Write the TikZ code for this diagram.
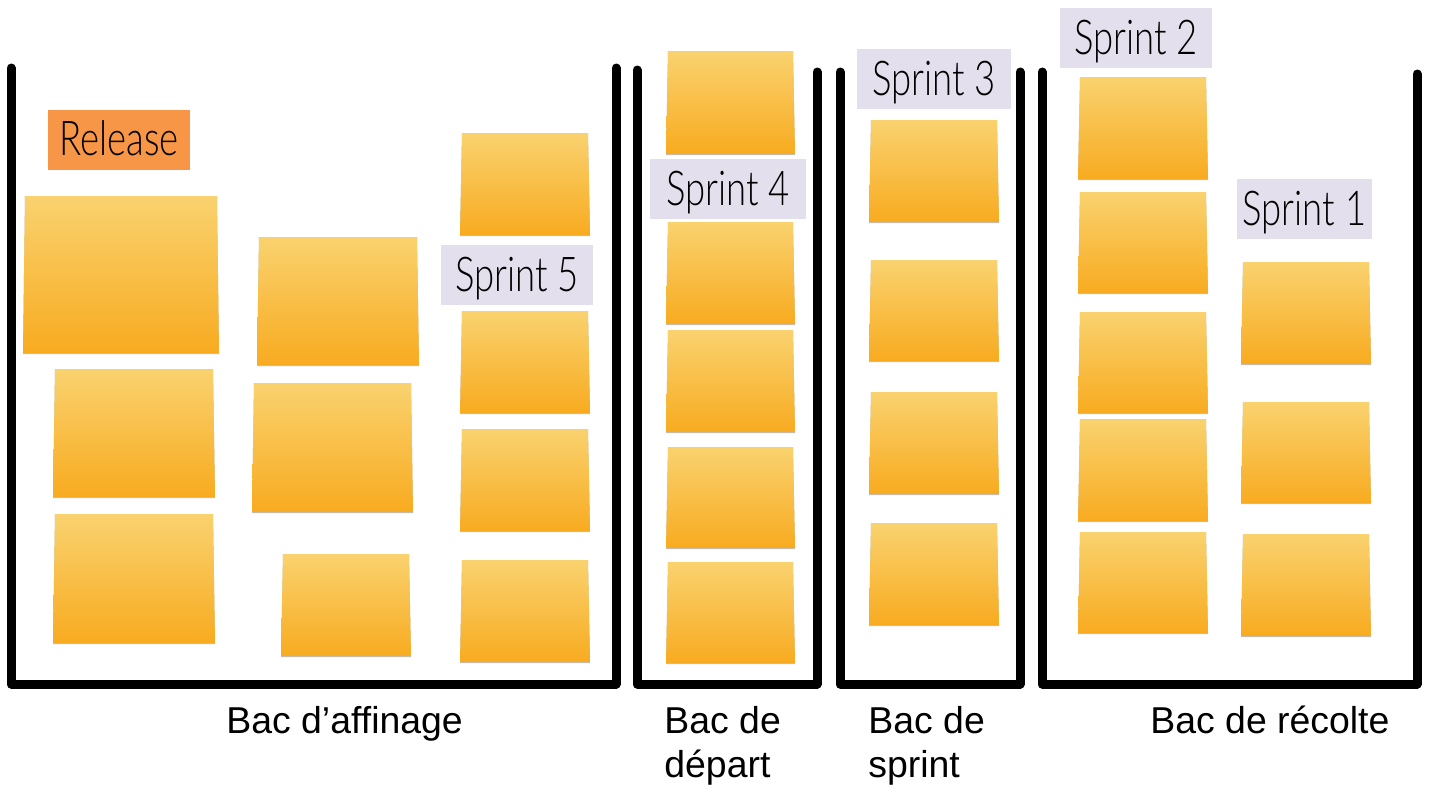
\documentclass[tikz,border=0pt]{standalone}
\usepackage{fontspec}
\setmainfont{Liberation Sans}
\newfontfamily\handfont[FakeStretch=0.76]{Lato Light}
\definecolor{notetop}{HTML}{F9D26F}
\definecolor{notebottom}{HTML}{F8AB20}
\definecolor{tagsprint}{HTML}{E4DFEC}
\definecolor{tagrelease}{HTML}{F79646}
\begin{document}
\begin{tikzpicture}[x=0.5pt,y=-0.5pt]
		\tikzstyle{every node}+=[inner sep=0pt]
		\tikzstyle{bac}=[black,line width=4.5pt,line cap=round,line join=round,preaction={draw=black!22,transform canvas={yshift=-1.2pt}}]
		\tikzstyle{tag}=[minimum height=30pt,text height=20pt,text depth=4pt,font=\handfont\fontsize{24}{28}\selectfont,text=black]
		\tikzstyle{caption}=[anchor=base west,font=\fontsize{18.7}{22}\selectfont,align=left]
		\useasboundingbox (0,0) rectangle (1429,793);
		\draw [bac] (11,68) -- (11,684) -- (616,684) -- (616,68);
		\draw [bac] (637,70) -- (637,684) -- (817,684) -- (817,72);
		\draw [bac] (840,72) -- (840,684) -- (1020,684) -- (1020,72);
		\draw [bac] (1042,72) -- (1042,684) -- (1417,684) -- (1417,74);
		\foreach \lft/\top/\rgt/\bot in {
			23/196/219/353, 53/369/215/497, 53/514/215/643,
			257/237/419/365, 252/383/413/512, 281/554/411/656,
			460/133/590/235, 460/311/590/413, 460/429/590/531, 460/560/590/662,
			666/51/795/154, 666/222/795/324, 666/330/795/432, 666/447/795/548, 666/562/795/663,
			869/120/999/222, 869/260/999/361, 869/392/999/494, 869/523/999/625,
			1078/77/1208/179, 1078/192/1208/293, 1078/312/1208/413, 1078/419/1208/521, 1078/532/1208/633,
			1241/262/1371/364, 1241/402/1371/503, 1241/534/1371/636}
		{
			\fill [black!25] ({\lft+2},\top) -- ({\rgt-2},\top) -- (\rgt,{\bot+1}) -- (\lft,{\bot+1}) -- cycle;
			\shade [top color=notetop,bottom color=notebottom] ({\lft+2},\top) -- ({\rgt-2},\top) -- (\rgt,\bot) -- (\lft,\bot) -- cycle;
		}
		\node [tag,fill=tagrelease,minimum width=71pt] (release) at (119,139.5) {Release};
		\node [tag,fill=tagsprint,minimum width=76pt] (sprintfive) at (517,275) {Sprint 5};
		\node [tag,fill=tagsprint,minimum width=78pt] (sprintfour) at (728,189) {Sprint 4};
		\node [tag,fill=tagsprint,minimum width=77pt] (sprintthree) at (934,79) {Sprint 3};
		\node [tag,fill=tagsprint,minimum width=76pt] (sprinttwo) at (1136,38) {Sprint 2};
		\node [tag,fill=tagsprint,minimum width=67.5pt] (sprintone) at (1304.5,209) {Sprint 1};
		\node [caption] (affinage) at (226,733) {Bac d’affinage};
		\node [caption] (depart) at (664,777) {Bac de\\départ};
		\node [caption] (sprint) at (868,777) {Bac de\\sprint};
		\node [caption] (recolte) at (1150,733) {Bac de récolte};
	\end{tikzpicture}
\end{document}
